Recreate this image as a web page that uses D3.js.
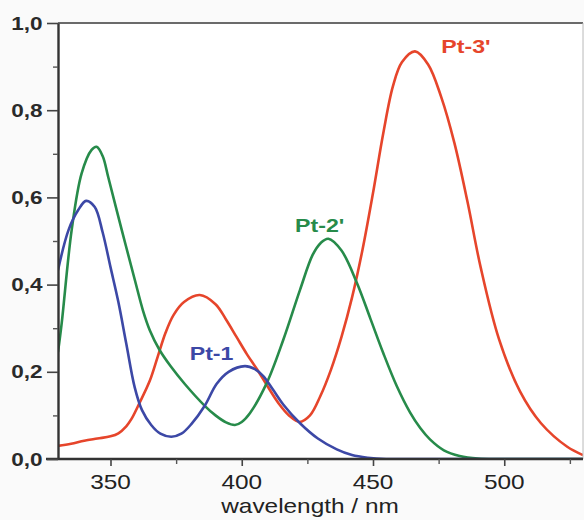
<!DOCTYPE html>
<html>
<head>
<meta charset="utf-8">
<script src="https://cdn.jsdelivr.net/npm/d3@7"></script>
<style>
  html, body { margin: 0; padding: 0; background: #fafafa; }
  svg { display: block; }
  text { font-family: "Liberation Sans", Arial, sans-serif; fill: #222; }
</style>
</head>
<body>
<svg id="chart" width="584" height="520"></svg>
<script>
// Absorption spectra of the three platinum complexes (wavelength in nm, absorbance)
const wlPt1 = [330, 334, 337.7, 340.7, 344, 347, 350, 353, 356, 359.2, 362, 365.5, 369, 373.2, 377, 380.8, 385.9, 390.4, 395, 401.2, 405, 408.2, 412, 415.8, 422.2, 429, 436.2, 442, 448, 455, 470, 500, 530];
const absPt1 = [0.433, 0.525, 0.571, 0.592, 0.578, 0.52, 0.44, 0.36, 0.265, 0.165, 0.112, 0.078, 0.058, 0.051, 0.058, 0.08, 0.122, 0.172, 0.2, 0.213, 0.206, 0.19, 0.158, 0.125, 0.082, 0.047, 0.022, 0.009, 0.003, 0, 0, 0, 0];

const wlPt2 = [330, 331.4, 335.2, 339, 342.8, 344.7, 347, 349.2, 354.3, 359.3, 362.4, 365, 368.7, 373, 378.3, 385.9, 390, 394, 397.4, 400, 403.1, 409.5, 415.8, 422.2, 427, 430, 433, 438, 443.8, 449, 453.9, 459, 464.1, 468, 471.7, 477, 483, 490, 500, 530];
const absPt2 = [0.245, 0.311, 0.525, 0.655, 0.709, 0.716, 0.695, 0.645, 0.525, 0.41, 0.34, 0.295, 0.25, 0.212, 0.172, 0.122, 0.1, 0.084, 0.078, 0.085, 0.105, 0.174, 0.273, 0.388, 0.468, 0.495, 0.505, 0.478, 0.405, 0.322, 0.243, 0.168, 0.107, 0.071, 0.045, 0.02, 0.007, 0.001, 0, 0];

const wlPt3 = [330, 335, 340, 345, 350, 353, 356, 358, 361, 365, 368, 371, 374, 378, 384, 390, 394, 398, 402, 406, 410, 414, 418, 422, 426, 430, 434, 438, 442, 446, 450, 454, 457.6, 461, 466, 471, 476, 481, 486, 491, 498, 506, 514, 524, 530];
const absPt3 = [0.03, 0.035, 0.042, 0.047, 0.052, 0.059, 0.075, 0.092, 0.128, 0.18, 0.235, 0.29, 0.33, 0.36, 0.376, 0.355, 0.32, 0.28, 0.24, 0.204, 0.165, 0.128, 0.1, 0.085, 0.1, 0.145, 0.205, 0.28, 0.37, 0.48, 0.61, 0.75, 0.855, 0.91, 0.935, 0.905, 0.83, 0.725, 0.59, 0.44, 0.275, 0.155, 0.082, 0.028, 0.009];

const seriesNames = ["Pt-1", "Pt-2'", "Pt-3'"];
const seriesColors = ["#3c48a6", "#278b4a", "#e6452b"];
// label anchor points in data units (centre, baseline)
const labelWl = [388.5, 429.7, 485.4];
const labelAbs = [0.227, 0.521, 0.931];

const xMajor = [350, 400, 450, 500];
const xMinor = [375, 425, 475, 525];
const yMajor = [0, 0.2, 0.4, 0.6, 0.8, 1.0];
const yMinor = [0.1, 0.3, 0.5, 0.7, 0.9];
const xTitle = "wavelength / nm";

const svg = d3.select("#chart");
const plotL = 58, plotR = 583, plotT = 23, plotB = 459;
const x = d3.scaleLinear().domain([330, 530]).range([plotL, plotR]);
const y = d3.scaleLinear().domain([0, 1]).range([plotB, plotT]);
const STRETCH = 1.22;
const fmt = d => d3.format(".1f")(d).replace(".", ",");

// plot area
svg.append("rect").attr("x", plotL).attr("y", plotT)
  .attr("width", plotR - plotL).attr("height", plotB - plotT).attr("fill", "#fff");

// curves
const wls = [wlPt1, wlPt2, wlPt3];
const abss = [absPt1, absPt2, absPt3];
const line = d3.line().x(d => x(d[0])).y(d => y(d[1])).curve(d3.curveCatmullRom.alpha(0.5));
const plot = svg.append("g");
plot.append("clipPath").attr("id", "clip").append("rect")
  .attr("x", plotL).attr("y", plotT).attr("width", plotR - plotL).attr("height", plotB - plotT);
const drawOrder = [2, 1, 0];
drawOrder.forEach(i => {
  plot.append("path")
    .datum(wls[i].map((w, k) => [w, abss[i][k]]))
    .attr("clip-path", "url(#clip)")
    .attr("fill", "none")
    .attr("stroke", seriesColors[i])
    .attr("stroke-width", 2.6)
    .attr("stroke-linejoin", "round")
    .attr("d", line);
});

// frame: top and right borders
svg.append("line").attr("x1", plotL).attr("x2", plotR).attr("y1", plotT).attr("y2", plotT)
  .attr("stroke", "#6a6a6a").attr("stroke-width", 2);
svg.append("line").attr("x1", plotR).attr("x2", plotR).attr("y1", plotT).attr("y2", plotB)
  .attr("stroke", "#bbb").attr("stroke-width", 1);

// x axis
const xAxis = svg.append("g").attr("transform", `translate(0,${plotB})`)
  .call(d3.axisBottom(x).tickValues(xMajor).tickSize(7).tickSizeOuter(0).tickFormat(""));
xAxis.select(".domain").attr("stroke", "#333").attr("stroke-width", 2.4)
  .attr("d", `M${plotL - 12},0H${plotR}`);
xAxis.selectAll(".tick line").attr("stroke", "#444").attr("stroke-width", 1.6);
const xAxisMinor = svg.append("g").attr("transform", `translate(0,${plotB})`)
  .call(d3.axisBottom(x).tickValues(xMinor).tickSize(5).tickFormat(""));
xAxisMinor.select(".domain").remove();
xAxisMinor.selectAll(".tick line").attr("stroke", "#555").attr("stroke-width", 1.4);
xMajor.forEach(v => {
  svg.append("text")
    .attr("transform", `translate(${x(v)},489) scale(${STRETCH},1)`)
    .attr("text-anchor", "middle").attr("font-size", 20).text(v);
});

// y axis
const yAxis = svg.append("g").attr("transform", `translate(${plotL},0)`)
  .call(d3.axisLeft(y).tickValues(yMajor).tickSize(11).tickSizeOuter(0).tickFormat(""));
yAxis.select(".domain").attr("stroke", "#333").attr("stroke-width", 2.4);
yAxis.selectAll(".tick line").attr("stroke", "#444").attr("stroke-width", 1.6);
const yAxisMinor = svg.append("g").attr("transform", `translate(${plotL},0)`)
  .call(d3.axisLeft(y).tickValues(yMinor).tickSize(5).tickFormat(""));
yAxisMinor.select(".domain").remove();
yAxisMinor.selectAll(".tick line").attr("stroke", "#555").attr("stroke-width", 1.4);
yMajor.forEach(v => {
  svg.append("text")
    .attr("transform", `translate(42.5,${y(v) + 6.6}) scale(${STRETCH},1)`)
    .attr("text-anchor", "end").attr("font-size", 18.5).attr("font-weight", "bold")
    .style("fill", "#2a2a2a").text(fmt(v));
});

// axis title
svg.append("text")
  .attr("transform", `translate(310,513) scale(${STRETCH},1)`)
  .attr("text-anchor", "middle").attr("font-size", 20).text(xTitle);

// series labels
seriesNames.forEach((name, i) => {
  svg.append("text")
    .attr("transform", `translate(${x(labelWl[i])},${y(labelAbs[i])}) scale(${STRETCH},1)`)
    .attr("text-anchor", "middle").attr("font-size", 19).attr("font-weight", "bold")
    .style("fill", seriesColors[i]).text(name);
});
</script>
</body>
</html>
